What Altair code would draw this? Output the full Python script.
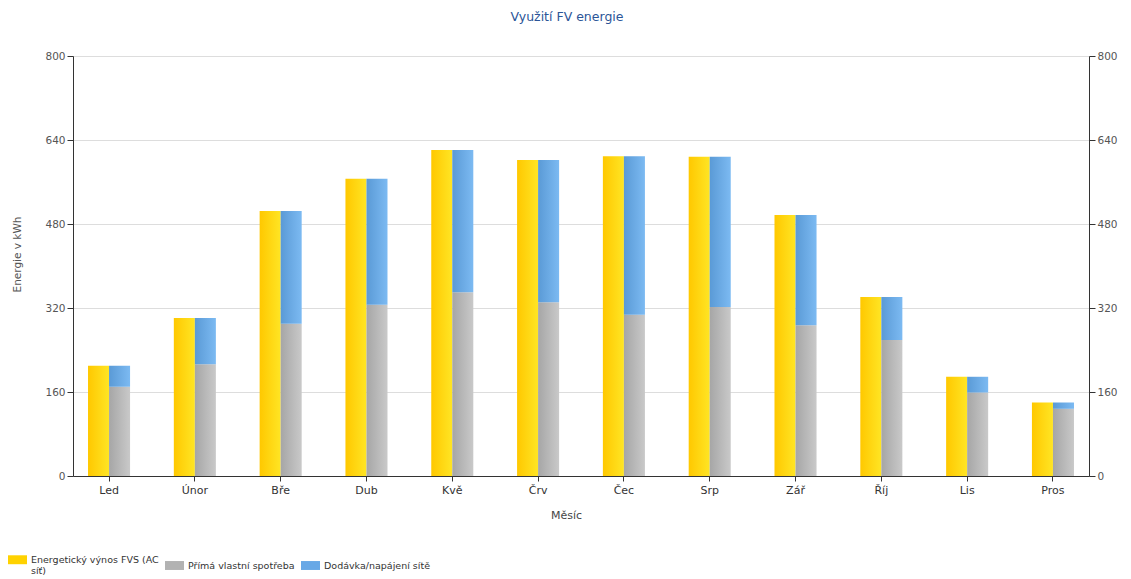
import altair as alt
import pandas as pd

months = ["Led", "Únor", "Bře", "Dub", "Kvě", "Črv", "Čec", "Srp", "Zář", "Říj", "Lis", "Pros"]
yield_total = [210, 301, 505, 566, 621, 602, 609, 608, 497, 341, 189, 140]
self_use = [170, 213, 290, 326, 350, 331, 307, 322, 287, 259, 159, 128]
series = ["Energetický výnos FVS (AC síť)", "Přímá vlastní spotřeba", "Dodávka/napájení sítě"]
legend_colors = ["#FFD200", "#B2B2B2", "#68A8E6"]
tick_values = [0, 160, 320, 480, 640, 800]

FONT = "DejaVu Sans"

df_yield = pd.DataFrame({"month": months, "grp": "A", "series": series[0],
                         "y0": [0] * len(months), "y1": yield_total})
df_self = pd.DataFrame({"month": months, "grp": "B", "series": series[1],
                        "y0": [0] * len(months), "y1": self_use})
df_grid = pd.DataFrame({"month": months, "grp": "B", "series": series[2],
                        "y0": self_use, "y1": yield_total})


def grad(c0, c1):
    return alt.LinearGradient(gradient="linear", x1=0, x2=1, y1=0, y2=0,
                              stops=[alt.GradientStop(color=c0, offset=0),
                                     alt.GradientStop(color=c1, offset=1)])


x_axis = alt.Axis(title="Měsíc", labelFont=FONT, labelFontSize=11, labelColor="#333",
                  titleFont=FONT, titleFontSize=11, titleFontWeight="normal", titleColor="#444",
                  domainColor="#333", tickColor="#333", tickSize=5, labelPadding=3,
                  titleX=493, titleY=39, titleBaseline="middle", labelAngle=0)
x_enc = alt.X("month:N", sort=months,
              scale=alt.Scale(paddingInner=0.51, paddingOuter=0.175), axis=x_axis)
xo_enc = alt.XOffset("grp:N", scale=alt.Scale(domain=["A", "B"], paddingInner=0, paddingOuter=0))
y_scale = alt.Scale(domain=[0, 800], nice=False)

color_enc = alt.Color("series:N", scale=alt.Scale(domain=series, range=legend_colors),
                      legend=alt.Legend(orient="none", legendX=-65, legendY=494,
                                        direction="horizontal", title=None,
                                        symbolType="M-1,-0.47H1V0.47H-1Z", symbolSize=361,
                                        symbolStrokeWidth=0,
                                        labelFont=FONT, labelFontSize=9.5, labelColor="#333",
                                        labelOffset=4, columnPadding=6, labelLimit=300,
                                        labelExpr="indexof(datum.label, '(AC') >= 0 ? ['Energetický výnos FVS (AC', 'síť)'] : datum.label"))

left_axis = alt.Axis(values=tick_values, grid=True, gridColor="#DDDDDD", orient="left",
                     domainColor="#333", tickColor="#333", tickSize=6,
                     labelFont=FONT, labelFontSize=10.5, labelColor="#555",
                     title="Energie v kWh", titleFont=FONT, titleFontSize=10.5,
                     titleFontWeight="normal", titleColor="#555",
                     titleX=-56, titleY=198, titleBaseline="middle", titleAngle=-90)
right_axis = alt.Axis(values=tick_values, grid=False, orient="right",
                      domainColor="#333", tickColor="#333", tickSize=6,
                      labelFont=FONT, labelFontSize=10.5, labelColor="#555", title=None)

yellow = alt.Chart(df_yield).mark_bar(fill=grad("#FFC800", "#FFE524")).encode(
    x=x_enc, xOffset=xo_enc,
    y=alt.Y("y1:Q", scale=y_scale, axis=left_axis), y2="y0:Q",
    color=color_enc)

gray = alt.Chart(df_self).mark_bar(fill=grad("#A6A6A6", "#C9C9C9")).encode(
    x=x_enc, xOffset=xo_enc,
    y=alt.Y("y1:Q", scale=y_scale, axis=None), y2="y0:Q",
    color=color_enc)

blue = alt.Chart(df_grid).mark_bar(fill=grad("#5A9AD6", "#7CBAF2")).encode(
    x=x_enc, xOffset=xo_enc,
    y=alt.Y("y1:Q", scale=y_scale, axis=right_axis), y2="y0:Q",
    color=color_enc)

chart = alt.layer(yellow, gray, blue).resolve_scale(y="independent").properties(
    width=1016, height=420,
    title=alt.TitleParams("Využití FV energie", font=FONT, fontSize=12.5, fontWeight="normal",
                          color="#2B5597", anchor="middle", dx=-14, offset=28),
    autosize=alt.AutoSizeParams(type="none"),
    padding={"left": 73, "top": 56, "right": 42, "bottom": 103},
).configure_view(stroke=None).configure(background="white")

chart.save("out.html", embed_options={"renderer": "svg", "actions": False})
